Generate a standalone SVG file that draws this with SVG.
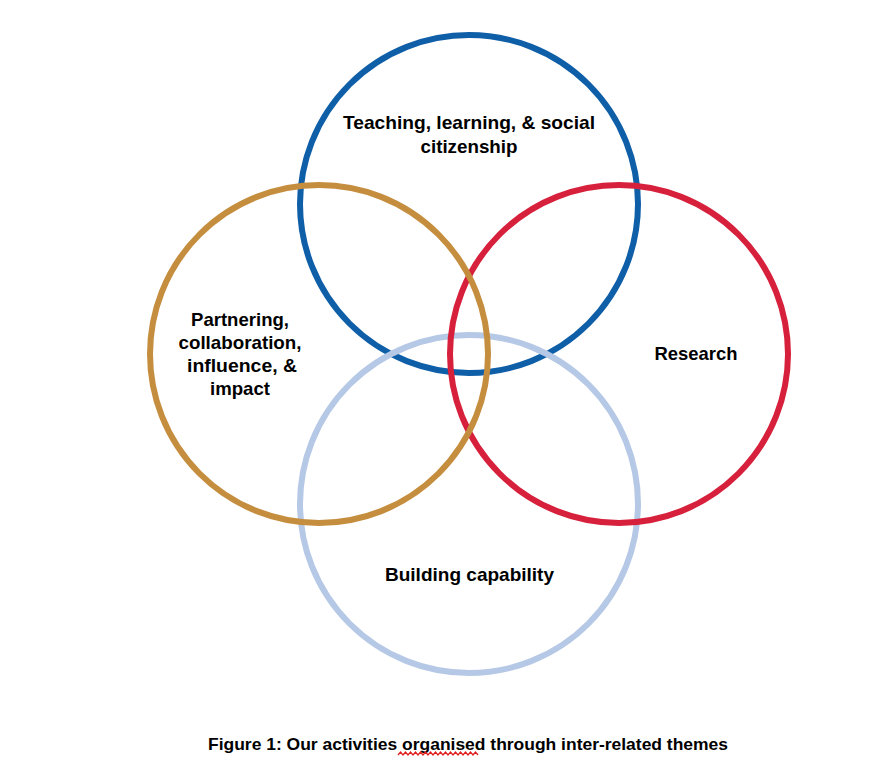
<svg xmlns="http://www.w3.org/2000/svg" width="888" height="764" viewBox="0 0 888 764">
<style>
.ring{fill:none;stroke-width:6}
.lbl{font-family:"Liberation Sans",Arial,sans-serif;font-weight:bold;font-size:19px;fill:#000;text-anchor:middle}
.cap{font-family:"Liberation Sans",Arial,sans-serif;font-weight:bold;font-size:17px;fill:#000}
</style>
<rect width="888" height="764" fill="#fff"/>
<g id="teaching"><circle class="ring" cx="469" cy="204" r="169" stroke="#0f5ea8"/>
<text class="lbl" x="469" y="129" textLength="252" lengthAdjust="spacingAndGlyphs">Teaching, learning, &amp; social</text>
<text class="lbl" x="469" y="153" textLength="97" lengthAdjust="spacingAndGlyphs">citizenship</text></g>
<g id="building"><circle class="ring" cx="469" cy="504" r="169" stroke="#b5c8e6"/>
<text class="lbl" x="469.5" y="581" textLength="169" lengthAdjust="spacingAndGlyphs">Building capability</text></g>
<g id="research"><circle class="ring" cx="619" cy="354" r="169" stroke="#d7203b"/>
<text class="lbl" x="696" y="360" textLength="83" lengthAdjust="spacingAndGlyphs">Research</text></g>
<g id="partnering"><circle class="ring" cx="319" cy="354" r="169" stroke="#c58d3e"/>
<text class="lbl" x="240" y="326" textLength="98" lengthAdjust="spacingAndGlyphs">Partnering,</text>
<text class="lbl" x="240" y="349" textLength="123" lengthAdjust="spacingAndGlyphs">collaboration,</text>
<text class="lbl" x="242" y="372" textLength="110" lengthAdjust="spacingAndGlyphs">influence, &amp;</text>
<text class="lbl" x="240" y="395" textLength="60" lengthAdjust="spacingAndGlyphs">impact</text></g>
<g id="connectors"></g>
<g id="caption">
<text class="cap" x="208" y="750" textLength="520" lengthAdjust="spacingAndGlyphs">Figure 1: Our activities organised through inter-related themes</text>
<path d="M398 755 l2.5 -3 l2.5 3 l2.5 -3 l2.5 3 l2.5 -3 l2.5 3 l2.5 -3 l2.5 3 l2.5 -3 l2.5 3 l2.5 -3 l2.5 3 l2.5 -3 l2.5 3 l2.5 -3 l2.5 3 l2.5 -3 l2.5 3 l2.5 -3 l2.5 3 l2.5 -3 l2.5 3 l2.5 -3 l2.5 3 l2.5 -3 l2.5 3 l2.5 -3 l2.5 3 l2.5 -3 l2.5 3 l2.5 -3 l2.5 3" fill="none" stroke="#e0201f" stroke-width="1.3"/>
</g>
</svg>
